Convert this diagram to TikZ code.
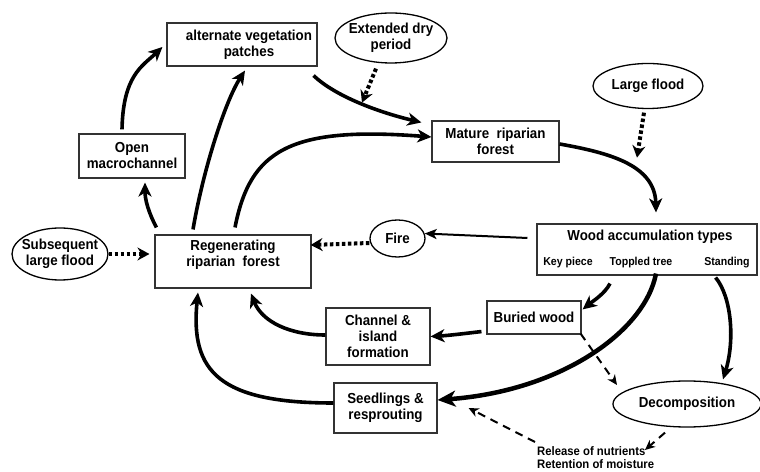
\documentclass[tikz,border=0pt]{standalone}
\usepackage{fontspec}
\setmainfont{Liberation Sans}[FakeStretch=0.92]
\usetikzlibrary{arrows.meta,positioning,shapes,calc}
\tikzset{
  stage/.style={draw=black!80,line width=1.1pt,align=center,inner sep=2pt,
                font=\bfseries\fontsize{14.5}{16}\selectfont},
  oval/.style={draw=black,ellipse,line width=1.3pt,align=center,
               inner xsep=-5pt,inner ysep=0pt,
               font=\bfseries\fontsize{14.5}{16}\selectfont},
  kind/.style={inner sep=0pt,font=\bfseries\fontsize{11.5}{13}\selectfont},
  note/.style={inner sep=0pt,align=left,font=\bfseries\fontsize{12.3}{13}\selectfont},
  flow/.style={-{Stealth[length=14pt,width=13pt,inset=4pt]},line width=3.6pt},
  bigflow/.style={-{Stealth[length=18pt,width=16pt,inset=5pt]},line width=4.5pt},
  thinflow/.style={-{Stealth[length=12pt,width=10pt,inset=3pt]},line width=2pt},
  dotflow/.style={-{Stealth[length=12pt,width=13pt,inset=4pt]},line width=4pt,
                  dash pattern=on 3.5pt off 2.5pt},
  dashflow/.style={-{Stealth[length=10pt,width=9pt,inset=3pt]},line width=2pt,
                   dash pattern=on 8pt off 6pt}
}
\begin{document}
\begin{tikzpicture}[x=1pt,y=1pt]
  \useasboundingbox (0,0) rectangle (760,471);
  \node[stage,minimum width=150pt,minimum height=43pt] (alt) at (242,426.5)
    {\hspace*{14pt}alternate vegetation\\\hspace*{14pt}patches};
  \node[stage,minimum width=106pt,minimum height=44pt] (open) at (132,315)
    {Open\\macrochannel};
  \node[stage,minimum width=156pt,minimum height=53pt,text depth=16pt] (regen)
    at (233,209.5) {Regenerating\\riparian~~forest};
  \node[stage,minimum width=127pt,minimum height=41pt] (mature) at (495.5,329.5)
    {Mature~~riparian\\forest};
  \node[stage,minimum width=220pt,minimum height=51pt] (wood) at (647,221.5) {};
  \node[inner sep=0pt,font=\bfseries\fontsize{14.5}{16}\selectfont] (woodtitle)
    at (650,234) {Wood accumulation types};
  \node[kind] (keyp) at (568,208) {Key piece};
  \node[kind] (toppled) at (641,208) {Toppled tree};
  \node[kind] (standing) at (727,208) {Standing};
  \node[stage,minimum width=94pt,minimum height=33pt] (buried) at (534,153.5)
    {Buried wood};
  \node[stage,minimum width=104pt,minimum height=57pt] (channel) at (378,134.5)
    {Channel \&\\island\\formation};
  \node[stage,minimum width=103pt,minimum height=50pt] (seedl) at (385.5,63)
    {Seedlings \&\\resprouting};
  \node[oval,minimum width=112pt,minimum height=50pt] (extdry) at (391,433)
    {Extended dry\\period};
  \node[oval,minimum width=110pt,minimum height=45pt] (lflood) at (648,385)
    {Large flood};
  \node[oval,minimum width=55pt,minimum height=37pt] (fire) at (397.5,232.5)
    {Fire};
  \node[oval,minimum width=96pt,minimum height=52pt] (subseq) at (60,217)
    {Subsequent\\large flood};
  \node[oval,minimum width=148pt,minimum height=46pt] (decomp) at (687,67)
    {Decomposition};
  \node[note,anchor=north west] (release) at (537,25)
    {Release of nutrients\\Retention of moisture};

  \draw[flow] ($(regen.north west)+(2,7)$) .. controls +(-8,15) and +(0,-17)
    .. ($(open.south)+(13,-4)$);
  \draw[flow] ($(open.north)+(-10,4)$) .. controls +(1,54) and +(-20,-19)
    .. ($(alt.west)+(-4,-2.5)$);
  \draw[flow] ($(regen.north)+(-40,5)$) .. controls +(10,59) and +(-20,-31)
    .. ($(alt.south)+(3,-4)$);
  \draw[flow] ($(regen.north)+(2,7)$) .. controls +(15,77) and +(-142,11)
    .. ($(mature.west)+(0,4.5)$);
  \draw[flow] ($(alt.south east)+(-4,-9)$) .. controls +(22,-21) and +(-42,10)
    .. ($(mature.north west)+(-10,-2)$);
  \draw[dotflow] ($(extdry.south)+(-15,-5)$) -- ($(extdry.south)+(-29,-39)$);
  \draw[flow] ($(mature.east)+(0,-2.5)$) .. controls +(51,-9) and +(-1,47)
    .. ($(wood.north)+(9,11)$);
  \draw[dotflow] ($(lflood.south)+(-4,-3.5)$) -- ($(lflood.south)+(-11,-48.5)$);
  \draw[thinflow] ($(wood.west)+(-9,11.5)$) -- ($(fire.east)+(-1,5)$);
  \draw[dotflow] ($(fire.west)+(0,-4.5)$) -- ($(regen.east)+(-1,16.5)$);
  \draw[dotflow] (subseq.east) -- ($(subseq.east -| regen.west)+(-5,0)$);
  \draw[flow] ($(wood.south)+(-37,-8)$) .. controls +(-5,-10) and +(10,8)
    .. ($(buried.north east)+(1,-9)$);
  \draw[flow] ($(buried.south west)+(-5,3)$) .. controls +(-17,-2) and +(18,1)
    .. (channel.east);
  \draw[flow] ($(channel.west)+(0,1.5)$) .. controls +(-36,0) and +(11,-28)
    .. ($(regen.south)+(18,-5)$);
  \draw[flow] ($(seedl.west)+(0,5)$) .. controls +(-114,0) and +(-8,-79)
    .. ($(regen.south)+(-35,-4)$);
  \draw[bigflow] ($(wood.south)+(9,2)$) .. controls +(-11,-58) and +(123,9)
    .. ($(seedl.east)+(0,8)$);
  \draw[dashflow] ($(buried.south east)+(-1,1)$) -- ($(decomp.center)+(-70,19)$);
  \draw[flow] ($(wood.south east)+(-42,-2)$) .. controls +(16,-19) and +(12,39)
    .. ($(decomp.north)+(36,1)$);
  \draw[dashflow] ($(decomp.south)+(-22,-5)$) -- ($(release.north west)+(108,-4)$);
  \draw[dashflow] ($(release.north west)+(-2,4)$) -- ($(seedl.east)+(31,0)$);
\end{tikzpicture}
\end{document}
